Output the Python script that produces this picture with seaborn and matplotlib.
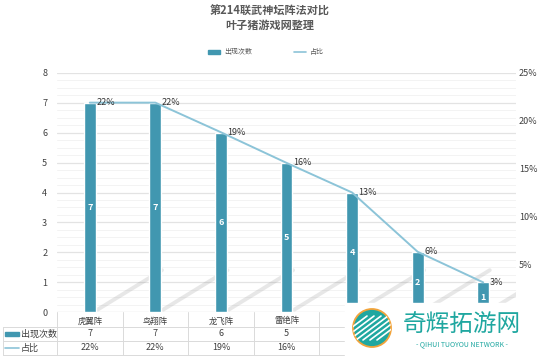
"""
第214联武神坛阵法对比：出现次数柱状 + 占比折线 + 底部数据表
"""
import matplotlib
matplotlib.use("Agg")
import matplotlib.pyplot as plt
import matplotlib.transforms as mtransforms
from matplotlib.patches import Rectangle, Ellipse
import numpy as np
import pandas as pd
import seaborn as sns

formations = ["虎翼阵", "鸟翔阵", "龙飞阵", "雷绝阵", "风扬阵", "天覆阵", "地载阵"]
counts = [7, 7, 6, 5, 4, 2, 1]
share = [21.9, 21.9, 18.8, 15.6, 12.5, 6.3, 3.1]
share_labels = ["22%", "22%", "19%", "16%", "13%", "6%", "3%"]
visible_cols = 4  # 后三列被水印遮住

BAR_C = "#4197B0"
LINE_C = "#8CC4D8"
TXT_C = "#404040"
GRID_C = "#E3E3E3"

sns.set_theme(style="white")
plt.rcParams["font.family"] = ["Noto Sans CJK SC", "DejaVu Sans"]
plt.rcParams["axes.unicode_minus"] = False

W, H = 540, 356
fig = plt.figure(figsize=(W / 100, H / 100), dpi=100)
ax = fig.add_axes([57 / W, 1 - 312 / H, 459 / W, 239 / H])

df = pd.DataFrame({"阵法": formations, "出现次数": counts, "占比": share})
x = np.arange(len(formations))

# 地面阴影（仅装饰）
for xi in x:
    ax.plot([xi + 0.12, xi + 1.1], [0.08, 1.4], color="#8A8A8A", lw=2.8,
            alpha=0.2, solid_capstyle="round", zorder=1)

sns.barplot(data=df, x="阵法", y="出现次数", color=BAR_C, width=0.18,
            saturation=1, ax=ax, zorder=3)
ax.set_ylim(0, 8)
ax.set_xlim(-0.5, len(formations) - 0.5)
ax.set_yticks(range(0, 9))
ax.set_yticks(np.arange(0, 8, 0.25), minor=True)
ax.grid(axis="y", which="major", color=GRID_C, lw=0.9, zorder=0)
ax.grid(axis="y", which="minor", color="#F1F1F1", lw=0.6, zorder=0)
ax.set_axisbelow(True)
ax.set_xlabel("")
ax.set_ylabel("")
ax.set_xticklabels([])
ax.tick_params(axis="y", which="both", length=0, labelsize=6.5,
               labelcolor=TXT_C, pad=7)
ax.tick_params(axis="x", length=0)
for lbl in ax.get_yticklabels():
    lbl.set_fontweight("medium")
for s in ax.spines.values():
    s.set_visible(False)
ax.axhline(0, color="#D9D9D9", lw=0.8, zorder=2)

for xi, c in zip(x, counts):
    ax.text(xi, c / 2, str(c), ha="center", va="center", color="white",
            fontsize=6.5, fontweight="bold", zorder=4)

ax2 = ax.twinx()
ax2.plot(x, share, color=LINE_C, lw=1.4, zorder=5)
ax2.set_ylim(0, 25)
ax2.set_yticks([5, 10, 15, 20, 25])
ax2.set_yticklabels(["5%", "10%", "15%", "20%", "25%"], fontweight="medium")
ax2.tick_params(axis="y", length=0, labelsize=6.5, labelcolor=TXT_C, pad=2)
ax2.grid(False)
for s in ax2.spines.values():
    s.set_visible(False)
for xi, v, lab in zip(x, share, share_labels):
    ax2.text(xi + 0.1, v, lab, ha="left", va="center", color="#333333",
             fontsize=6.5, fontweight="medium", zorder=6)

# 标题与图例
fig.text(0.5, 1 - 11 / H, "第214联武神坛阵法对比", ha="center", va="center",
         fontsize=8, fontweight="bold", color="#595959")
fig.text(0.5, 1 - 25 / H, "叶子猪游戏网整理", ha="center", va="center",
         fontsize=8, fontweight="bold", color="#595959")
fig.patches.append(Rectangle((208 / W, 1 - 54 / H), 12 / W, 4 / H,
                             transform=fig.transFigure, color=BAR_C))
fig.text(224 / W, 1 - 52 / H, "出现次数", ha="left", va="center",
         fontsize=5, color="#595959")
fig.lines.append(plt.Line2D([294 / W, 306 / W], [1 - 52 / H, 1 - 52 / H],
                            transform=fig.transFigure, color=LINE_C, lw=1.2))
fig.text(310 / W, 1 - 52 / H, "占比", ha="left", va="center",
         fontsize=5, color="#595959")

# 底部数据表
tr = mtransforms.blended_transform_factory(ax.transData, fig.transFigure)
row_y = [321, 334, 348]
lines_y = [312, 327, 341, 355]
for yy in lines_y[1:]:
    fig.lines.append(plt.Line2D([3 / W, 516 / W], [1 - yy / H] * 2,
                                transform=fig.transFigure, color="#DADADA", lw=0.7))
for b in np.arange(-0.5, len(formations), 1.0):
    ax.plot([b, b], [1 - lines_y[0] / H, 1 - lines_y[-1] / H], transform=tr,
            color="#DADADA", lw=0.7, clip_on=False)
fig.lines.append(plt.Line2D([3 / W, 3 / W], [1 - 327 / H, 1 - 355 / H],
                            transform=fig.transFigure, color="#DADADA", lw=0.7))
for xi, name, c, lab in list(zip(x, formations, counts, share_labels))[:visible_cols]:
    ax.text(xi, 1 - row_y[0] / H, name, transform=tr, ha="center", va="center",
            fontsize=6, color=TXT_C)
    ax.text(xi, 1 - row_y[1] / H, str(c), transform=tr, ha="center", va="center",
            fontsize=6.5, fontweight="medium", color=TXT_C)
    ax.text(xi, 1 - row_y[2] / H, lab, transform=tr, ha="center", va="center",
            fontsize=6.5, fontweight="medium", color=TXT_C)
fig.patches.append(Rectangle((5 / W, 1 - 336 / H), 14 / W, 4 / H,
                             transform=fig.transFigure, color=BAR_C))
fig.text(21 / W, 1 - 334 / H, "出现次数", ha="left", va="center",
         fontsize=6.5, color=TXT_C)
fig.lines.append(plt.Line2D([5 / W, 19 / W], [1 - 348 / H] * 2,
                            transform=fig.transFigure, color=LINE_C, lw=1.2))
fig.text(21 / W, 1 - 348 / H, "占比", ha="left", va="center",
         fontsize=6.5, color=TXT_C)

# 水印
fig.patches.append(Rectangle((345 / W, 0), 195 / W, 53 / H,
                             transform=fig.transFigure, color="white", zorder=10))
logo = Ellipse((372 / W, 1 - 328 / H), 38 / W, 38 / H,
               transform=fig.transFigure, facecolor="#1FA7A0",
               edgecolor="#F2A33A", lw=1.3, zorder=11)
fig.patches.append(logo)
for k in range(-3, 4):
    ln = plt.Line2D([(356 + 7 * k) / W, (388 + 7 * k) / W],
                    [1 - 340 / H, 1 - 316 / H], transform=fig.transFigure,
                    color="white", lw=1.2, zorder=11.5)
    ln.set_clip_path(logo)
    fig.lines.append(ln)
fig.text(462 / W, 1 - 325 / H, "奇辉拓游网", ha="center", va="center",
         fontsize=17, color="#1FA7A0", zorder=12)
fig.text(462 / W, 1 - 344 / H, "- QIHUI TUOYOU NETWORK -", ha="center",
         va="center", fontsize=5, color="#1FA7A0", zorder=12)

fig.savefig("out.png", dpi=100)
